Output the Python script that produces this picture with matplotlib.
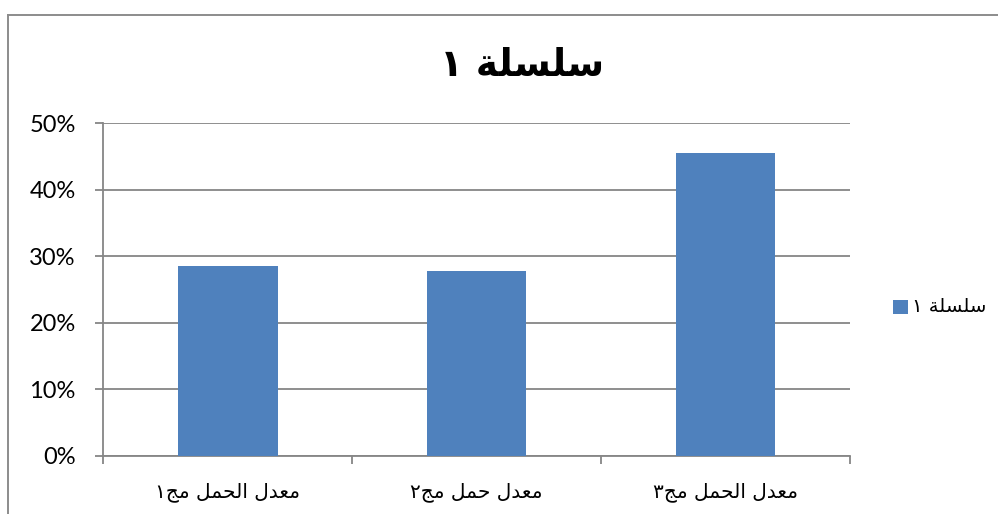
import matplotlib
matplotlib.use("Agg")
import matplotlib.pyplot as plt
from matplotlib.lines import Line2D
from matplotlib.patches import Rectangle
from matplotlib.ticker import FixedLocator, FuncFormatter

# ---- data ----
categories = ["معدل الحمل مج١", "معدل حمل مج٢", "معدل الحمل مج٣"]
values = [0.286, 0.278, 0.455]
series_name = "سلسلة ١"
chart_title = "سلسلة ١"
y_ticks = [0.0, 0.1, 0.2, 0.3, 0.4, 0.5]

# ---- minimal Arabic shaping (presentation forms) + visual reordering ----
# letter: (isolated, final, initial, medial); right-joining letters have no initial/medial
FORMS = {
    "ا": ("\uFE8D", "\uFE8E", None, None),
    "د": ("\uFEA9", "\uFEAA", None, None),
    "ة": ("\uFE93", "\uFE94", None, None),
    "ح": ("\uFEA1", "\uFEA2", "\uFEA3", "\uFEA4"),
    "ج": ("\uFE9D", "\uFE9E", "\uFE9F", "\uFEA0"),
    "س": ("\uFEB1", "\uFEB2", "\uFEB3", "\uFEB4"),
    "ع": ("\uFEC9", "\uFECA", "\uFECB", "\uFECC"),
    "ل": ("\uFEDD", "\uFEDE", "\uFEDF", "\uFEE0"),
    "م": ("\uFEE1", "\uFEE2", "\uFEE3", "\uFEE4"),
}


def dual(c):
    return c in FORMS and FORMS[c][2] is not None


def shape(s):
    out = []
    for i, c in enumerate(s):
        if c not in FORMS:
            out.append(c)
            continue
        prev = s[i - 1] if i > 0 else ""
        nxt = s[i + 1] if i + 1 < len(s) else ""
        jp = dual(prev)
        jn = dual(c) and nxt in FORMS
        iso, fin, ini, med = FORMS[c]
        if jp and jn:
            out.append(med)
        elif jp:
            out.append(fin)
        elif jn:
            out.append(ini)
        else:
            out.append(iso)
    return "".join(out)[::-1]


AR_FONT = ["DejaVu Sans"]
NUM_FONT = ["Lato", "DejaVu Sans"]
BAR = "#4F81BD"
GRID = "#868686"

fig = plt.figure(figsize=(9.98, 5.14), dpi=100)
W, H = 998, 514

# chart frame (partially outside the image, like the source screenshot)
fig.add_artist(Line2D([8 / W, 8 / W], [0, 1 - 15 / H], transform=fig.transFigure,
                      color="#8c8c8c", lw=1.4))
fig.add_artist(Line2D([8 / W, 1], [1 - 15 / H, 1 - 15 / H], transform=fig.transFigure,
                      color="#8c8c8c", lw=1.4))

ax = fig.add_axes([103.3 / W, 1 - 456 / H, (850 - 103.3) / W, (456 - 123.3) / H])
x = list(range(len(categories)))
ax.bar(x, values, width=0.4, color=BAR, zorder=3)
ax.set_xlim(-0.5, len(categories) - 0.5)
ax.set_ylim(0, 0.5)

ax.yaxis.set_major_locator(FixedLocator(y_ticks))
ax.yaxis.set_major_formatter(FuncFormatter(lambda v, p: f"{v * 100:.0f}%"))
ax.grid(axis="y", color=GRID, lw=1.3, zorder=0)
for lab in ax.get_yticklabels():
    lab.set_family(NUM_FONT)
    lab.set_fontsize(17)
ax.tick_params(axis="y", length=5.8, width=1.3, color=GRID, pad=14, labelcolor="black")

ax.xaxis.set_major_locator(FixedLocator([i - 0.5 for i in range(len(categories) + 1)]))
ax.xaxis.set_major_formatter(FuncFormatter(lambda v, p: ""))
ax.xaxis.set_minor_locator(FixedLocator(x))
ax.set_xticklabels([shape(c) for c in categories], minor=True, family=AR_FONT, fontsize=14.5)
ax.tick_params(axis="x", which="major", length=5.8, width=1.3, color=GRID)
ax.tick_params(axis="x", which="minor", length=0, pad=19)

for side in ("top", "right"):
    ax.spines[side].set_visible(False)
for side in ("left", "bottom"):
    ax.spines[side].set_color(GRID)
    ax.spines[side].set_linewidth(1.3)
ax.set_facecolor("none")

# title
fig.text(522 / W, 1 - 66 / H, shape(chart_title), ha="center", va="center",
         family=AR_FONT, fontsize=27, fontweight="bold")

# legend (manual, to the right of the plot area)
fig.add_artist(Rectangle((893 / W, 1 - 314 / H), 15 / W, 14 / H, transform=fig.transFigure,
                         facecolor=BAR, edgecolor="none"))
fig.text(986 / W, 1 - 307 / H, shape(series_name), ha="right", va="center",
         family=AR_FONT, fontsize=14)

fig.savefig("out.png", dpi=100)
